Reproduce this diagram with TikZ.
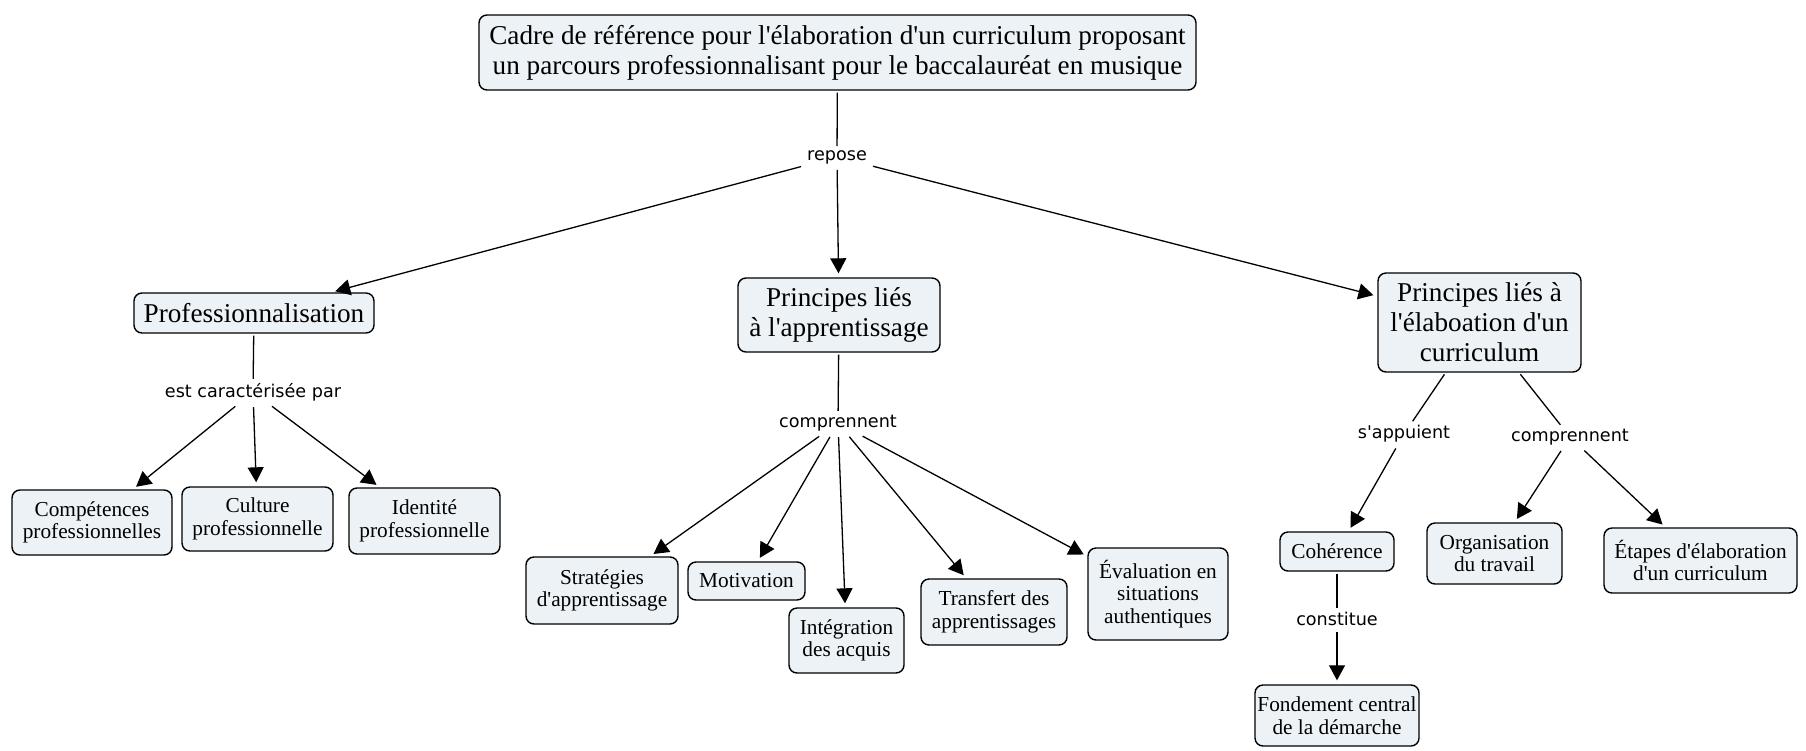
\documentclass[tikz,border=0pt]{standalone}
\usepackage{fontspec}
\setmainfont{Liberation Serif}
\newfontfamily\lblfont{DejaVu Sans}
\usetikzlibrary{arrows.meta}
\newcommand{\q}{\textquotesingle}
\definecolor{boxfill}{RGB}{236,242,245}
\tikzset{
  concept/.style={draw=black, line width=1.4pt, fill=boxfill, rounded corners=8pt, align=center, inner sep=0pt, text=black},
  big/.style={concept, font=\fontsize{27.2}{30}\selectfont},
  small/.style={concept, font=\fontsize{21.3}{22.5}\selectfont},
  link/.style={font=\lblfont\fontsize{17.6}{20}\selectfont, inner sep=4pt},
  conn/.style={line width=1.3pt, shorten <=2pt},
  arr/.style={conn, -{Triangle[length=15pt,width=16pt]}, shorten >=4pt},
}
\begin{document}
\begin{tikzpicture}[x=1pt,y=-1pt]
\useasboundingbox[fill=white] (0,0) rectangle (1806,750);
% concepts
\node[big, minimum width=717pt, minimum height=75pt] (top) at (837.5,52.5)
  {Cadre de référence pour l\q élaboration d\q un curriculum proposant\\ un parcours professionnalisant pour le baccalauréat en musique};
\node[big, minimum width=240pt, minimum height=40pt] (prof) at (254,313) {Professionnalisation};
\node[big, minimum width=202pt, minimum height=74pt] (appr) at (839,315) {Principes liés\\ à l\q apprentissage};
\node[big, minimum width=203pt, minimum height=99pt] (elab) at (1479.5,322.5) {Principes liés à\\ l\q élaboation d\q un\\ curriculum};
\node[small, minimum width=160pt, minimum height=65pt] (comp) at (92,522.5) {Compétences\\ professionnelles};
\node[small, minimum width=151pt, minimum height=64pt] (cult) at (257.5,519) {Culture\\ professionnelle};
\node[small, minimum width=151pt, minimum height=66pt] (iden) at (424.5,521) {Identité\\ professionnelle};
\node[small, minimum width=152pt, minimum height=67pt] (strat) at (602,590.5) {Stratégies\\ d\q apprentissage};
\node[small, minimum width=117pt, minimum height=38pt] (motiv) at (746.5,581) {Motivation};
\node[small, minimum width=115pt, minimum height=65pt] (integ) at (846.5,640.5) {Intégration\\ des acquis};
\node[small, minimum width=146pt, minimum height=66pt] (transf) at (994,612) {Transfert des\\ apprentissages};
\node[small, minimum width=140pt, minimum height=92pt] (eval) at (1158,594) {Évaluation en\\ situations\\ authentiques};
\node[small, minimum width=114pt, minimum height=39pt] (coher) at (1337,551.5) {Cohérence};
\node[small, minimum width=164pt, minimum height=61pt] (fond) at (1337,715.5) {Fondement central\\ de la démarche};
\node[small, minimum width=135pt, minimum height=61pt] (organ) at (1494.5,553.5) {Organisation\\ du travail};
\node[small, minimum width=193pt, minimum height=65pt] (etapes) at (1700.5,560.5) {Étapes d\q élaboration\\ d\q un curriculum};
% link labels
\node[link] (repose) at (837,157) {repose};
\node[link] (estcar) at (253,392) {est caractérisée par};
\node[link] (compr1) at (838,423) {comprennent};
\node[link] (sapp) at (1404,434) {s\q appuient};
\node[link] (compr2) at (1570,437) {comprennent};
\node[link] (const) at (1337,619) {constitue};
% connectors
\draw[conn] (top) -- (repose);
\draw[arr] (repose) -- (prof);
\draw[arr] (repose) -- (appr);
\draw[arr] (repose) -- (elab);
\draw[conn] (prof) -- (estcar);
\draw[arr] (estcar) -- (comp);
\draw[arr] (estcar) -- (cult);
\draw[arr] (estcar) -- (iden);
\draw[conn] (appr) -- (compr1);
\draw[arr] (compr1) -- (strat);
\draw[arr] (compr1) -- (motiv);
\draw[arr] (compr1) -- (integ);
\draw[arr] (compr1) -- (transf);
\draw[arr] (compr1) -- (eval);
\draw[conn] (elab) -- (sapp);
\draw[arr] (sapp) -- (coher);
\draw[conn] (elab) -- (compr2);
\draw[arr] (compr2) -- (organ);
\draw[arr] (compr2) -- (etapes);
\draw[conn] (coher) -- (const);
\draw[arr] (const) -- (fond);
\end{tikzpicture}
\end{document}
